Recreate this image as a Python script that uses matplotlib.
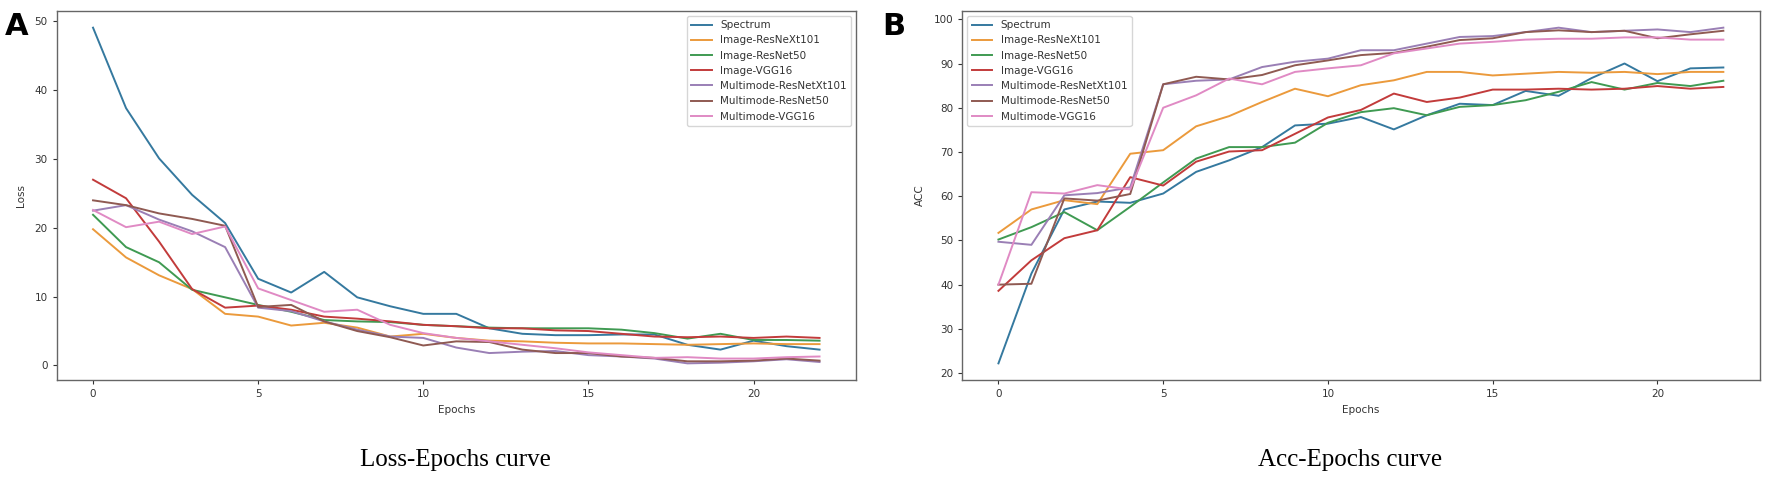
import matplotlib
matplotlib.use("Agg")
import matplotlib.pyplot as plt
import numpy as np

epochs = list(range(23))
series_names = ["Spectrum", "Image-ResNeXt101", "Image-ResNet50", "Image-VGG16",
                "Multimode-ResNetXt101", "Multimode-ResNet50", "Multimode-VGG16"]
series_colors = ["#35799f", "#eb9a3c", "#3f9a52", "#c23b3b", "#9a7fb5", "#8f5a52", "#e08ac4"]

# Loss values
loss_spectrum = [49.1, 37.4, 30.1, 24.8, 20.7, 12.6, 10.6, 13.6, 9.9, 8.6, 7.5, 7.5, 5.4, 4.6, 4.4, 4.4, 4.5, 4.5, 3.0, 2.3, 3.6, 2.8, 2.3]
loss_img_resnext101 = [19.8, 15.7, 13.1, 11.1, 7.5, 7.1, 5.8, 6.2, 5.5, 4.2, 4.6, 4.0, 3.6, 3.5, 3.3, 3.2, 3.2, 3.1, 3.0, 3.1, 3.2, 3.1, 3.1]
loss_img_resnet50 = [21.9, 17.2, 15.0, 11.0, 9.9, 8.8, 7.8, 6.6, 6.4, 6.3, 5.9, 5.7, 5.5, 5.4, 5.4, 5.4, 5.2, 4.7, 3.9, 4.6, 3.7, 3.7, 3.6]
loss_img_vgg16 = [27.0, 24.3, 18.0, 11.1, 8.4, 8.7, 8.1, 7.1, 6.8, 6.4, 5.9, 5.7, 5.4, 5.4, 5.1, 5.0, 4.6, 4.2, 4.1, 4.2, 4.0, 4.2, 4.0]
loss_mm_resnext101 = [22.5, 23.3, 21.2, 19.5, 17.2, 8.4, 7.9, 6.4, 5.2, 4.2, 4.0, 2.6, 1.8, 2.0, 2.1, 1.5, 1.3, 1.0, 0.3, 0.4, 0.6, 0.9, 0.5]
loss_mm_resnet50 = [24.0, 23.3, 22.1, 21.3, 20.3, 8.5, 8.8, 6.4, 5.0, 4.1, 2.9, 3.5, 3.4, 2.3, 1.8, 1.8, 1.3, 1.1, 0.6, 0.6, 0.7, 1.0, 0.7]
loss_mm_vgg16 = [22.6, 20.1, 20.9, 19.1, 20.2, 11.2, 9.5, 7.8, 8.1, 5.9, 4.7, 4.0, 3.5, 3.0, 2.5, 1.9, 1.5, 1.1, 1.2, 1.0, 1.0, 1.2, 1.3]

# Accuracy values
acc_spectrum = [22.2, 42.5, 57.0, 58.8, 58.5, 60.6, 65.5, 68.1, 71.1, 76.0, 76.4, 77.9, 75.1, 78.3, 80.9, 80.6, 83.8, 82.7, 86.7, 90.0, 86.0, 88.9, 89.1]
acc_img_resnext101 = [51.7, 57.0, 59.1, 58.2, 69.6, 70.4, 75.8, 78.1, 81.3, 84.3, 82.6, 85.1, 86.2, 88.1, 88.1, 87.3, 87.7, 88.1, 87.9, 88.1, 87.6, 88.1, 88.1]
acc_img_resnet50 = [50.2, 53.0, 56.4, 52.3, 57.6, 63.1, 68.5, 71.1, 71.1, 72.1, 76.6, 79.0, 79.9, 78.3, 80.2, 80.6, 81.7, 83.6, 85.8, 84.1, 85.6, 84.9, 86.1]
acc_img_vgg16 = [38.6, 45.5, 50.5, 52.3, 64.3, 62.4, 67.8, 70.1, 70.4, 74.1, 77.8, 79.5, 83.2, 81.3, 82.3, 84.1, 84.1, 84.3, 84.1, 84.3, 84.9, 84.3, 84.7]
acc_mm_resnext101 = [49.7, 49.0, 60.2, 60.7, 62.0, 85.3, 86.1, 86.4, 89.2, 90.4, 91.1, 93.0, 93.0, 94.5, 96.0, 96.2, 97.1, 98.1, 97.1, 97.4, 97.7, 97.1, 98.1]
acc_mm_resnet50 = [40.0, 40.2, 59.5, 59.0, 60.5, 85.3, 87.0, 86.4, 87.4, 89.6, 90.7, 91.9, 92.4, 93.8, 95.3, 95.7, 97.1, 97.5, 97.1, 97.4, 95.7, 96.6, 97.4]
acc_mm_vgg16 = [40.0, 60.9, 60.6, 62.5, 61.5, 80.0, 82.8, 86.6, 85.3, 88.1, 88.9, 89.6, 92.3, 93.4, 94.5, 94.9, 95.4, 95.6, 95.6, 95.9, 95.9, 95.4, 95.4]

loss_series = [loss_spectrum, loss_img_resnext101, loss_img_resnet50, loss_img_vgg16,
               loss_mm_resnext101, loss_mm_resnet50, loss_mm_vgg16]
acc_series = [acc_spectrum, acc_img_resnext101, acc_img_resnet50, acc_img_vgg16,
              acc_mm_resnext101, acc_mm_resnet50, acc_mm_vgg16]

xticks = [0, 5, 10, 15, 20]
loss_yticks = [0, 10, 20, 30, 40, 50]
acc_yticks = [20, 30, 40, 50, 60, 70, 80, 90, 100]

plt.rcParams['font.family'] = ['DejaVu Sans']
fig = plt.figure(figsize=(17.72, 4.95), dpi=100)

axA = fig.add_axes([0.032, 0.232, 0.451, 0.746])
axB = fig.add_axes([0.543, 0.232, 0.450, 0.746])

tick_color = "#333333"
for ax, data, yt, ylab, loc in [(axA, loss_series, loss_yticks, "Loss", "upper right"),
                                (axB, acc_series, acc_yticks, "ACC", "upper left")]:
    for vals, name, col in zip(data, series_names, series_colors):
        ax.plot(epochs, vals, color=col, lw=1.4, label=name)
    ax.set_xticks(xticks)
    ax.set_yticks(yt)
    ax.tick_params(labelsize=7.5, colors=tick_color, length=3, width=0.8)
    for sp in ax.spines.values():
        sp.set_color("#666666")
        sp.set_linewidth(1.0)
    ax.set_xlabel("Epochs", fontsize=7.5, color=tick_color, labelpad=4)
    ax.set_ylabel(ylab, fontsize=7.5, color=tick_color, labelpad=6)
    leg = ax.legend(loc=loc, fontsize=7.5, frameon=True, fancybox=True, framealpha=0.8)
    leg.get_frame().set_edgecolor("#cccccc")
    for t in leg.get_texts():
        t.set_color(tick_color)

fig.text(0.003, 0.975, "A", fontsize=22, fontweight="bold", va="top", ha="left")
fig.text(0.498, 0.975, "B", fontsize=22, fontweight="bold", va="top", ha="left")

fig.text(0.257, 0.07, "Loss-Epochs curve", fontsize=18, family="Liberation Serif",
         ha="center", va="center")
fig.text(0.762, 0.07, "Acc-Epochs curve", fontsize=18, family="Liberation Serif",
         ha="center", va="center")

fig.savefig("out.png", dpi=100)
